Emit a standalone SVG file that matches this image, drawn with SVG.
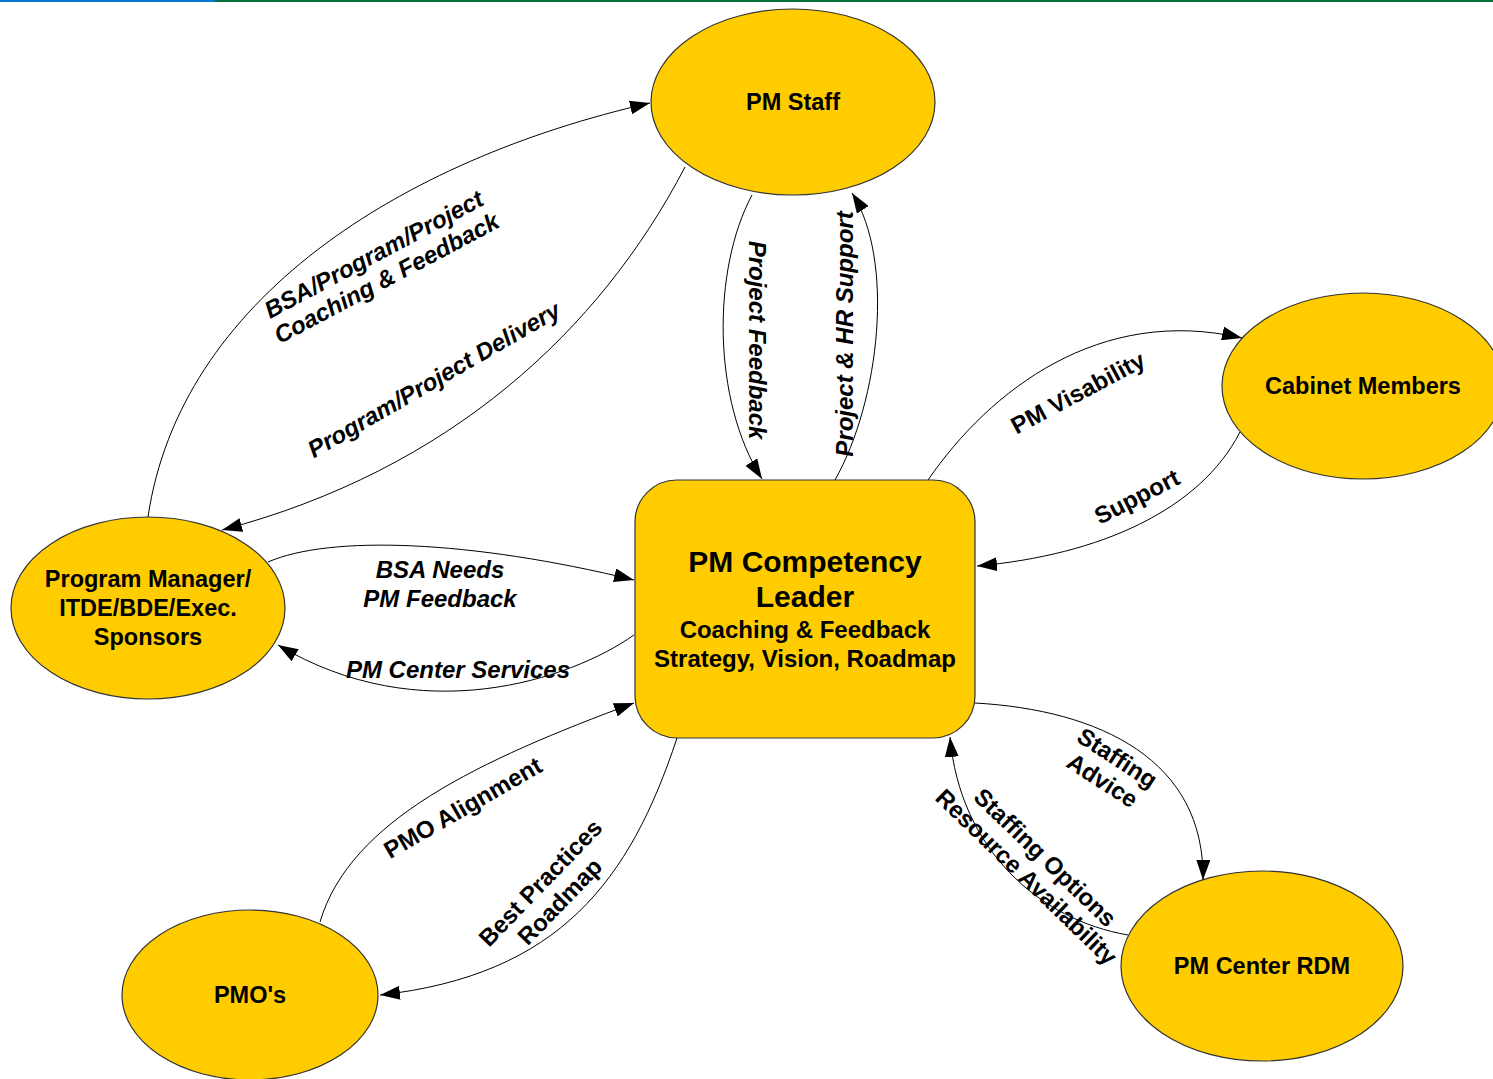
<svg xmlns="http://www.w3.org/2000/svg" width="1493" height="1079" viewBox="0 0 1493 1079">
<defs>
<style>
.node{fill:#FFCC00;stroke:#333;stroke-width:1.2}
.nl{font-family:"Liberation Sans",Arial,sans-serif;font-weight:bold;font-size:23.5px;fill:#000;text-anchor:middle}
.big{font-size:30px}
.sub{font-size:24px}
.edge{fill:none;stroke:#000;stroke-width:1;marker-end:url(#ah)}
.el{font-family:"Liberation Sans",Arial,sans-serif;font-weight:bold;font-size:24px;fill:#000;text-anchor:middle}
.it{font-style:italic}
</style>
<marker id="ah" viewBox="0 0 20 14" refX="20" refY="7" markerWidth="20" markerHeight="14" markerUnits="userSpaceOnUse" orient="auto">
<path d="M0,0 L20,7 L0,14 z" fill="#000"/>
</marker>
</defs>
<rect x="0" y="0" width="1493" height="1079" fill="#fff"/>
<rect x="0" y="0" width="215" height="2" fill="#0078D4"/>
<rect x="215" y="0" width="1278" height="2" fill="#00703C"/>

<g id="pm-staff"><ellipse class="node" cx="793" cy="102" rx="142" ry="93"/><text class="nl" x="793" y="110">PM Staff</text></g>
<g id="cabinet"><ellipse class="node" cx="1363" cy="386" rx="141" ry="93"/><text class="nl" x="1363" y="394">Cabinet Members</text></g>
<g id="program-manager"><ellipse class="node" cx="148" cy="608" rx="137" ry="91"/><text class="nl" x="148" y="587">Program Manager/</text><text class="nl" x="148" y="616">ITDE/BDE/Exec.</text><text class="nl" x="148" y="645">Sponsors</text></g>
<g id="pmos"><ellipse class="node" cx="250" cy="995" rx="128" ry="85"/><text class="nl" x="250" y="1003">PMO's</text></g>
<g id="pm-center-rdm"><ellipse class="node" cx="1262" cy="966" rx="141" ry="95"/><text class="nl" x="1262" y="974">PM Center RDM</text></g>
<g id="leader"><rect class="node" x="635" y="480" width="340" height="258" rx="42" ry="42"/>
<text class="nl big" x="805" y="572">PM Competency</text>
<text class="nl big" x="805" y="607">Leader</text>
<text class="nl sub" x="805" y="638">Coaching &amp; Feedback</text>
<text class="nl sub" x="805" y="667">Strategy, Vision, Roadmap</text></g>

<g id="connectors">
<path class="edge" d="M148,517 C180,300 400,160 650,103"/>
<path class="edge" d="M685,167 C600,330 450,470 222,530"/>
<path class="edge" d="M752,195 C712,270 712,400 762,479"/>
<path class="edge" d="M835,480 C880,400 895,260 852,193"/>
<path class="edge" d="M928,480 C990,390 1100,305 1242,338"/>
<path class="edge" d="M1240,432 C1200,510 1100,555 977,566"/>
<path class="edge" d="M268,562 C330,535 470,540 634,580"/>
<path class="edge" d="M634,635 C570,680 420,730 278,645"/>
<path class="edge" d="M320,922 C350,820 480,760 634,703"/>
<path class="edge" d="M677,738 C630,880 560,975 380,995"/>
<path class="edge" d="M975,703 C1100,710 1205,760 1203,880"/>
<path class="edge" d="M1128,935 C1040,920 960,850 950,737"/>

<g transform="translate(380,266) rotate(-28)"><text class="el it" x="0" y="-5">BSA/Program/Project</text><text class="el it" x="0" y="22">Coaching &amp; Feedback</text></g>
<g transform="translate(434,380) rotate(-30)"><text class="el it" x="0" y="8">Program/Project Delivery</text></g>
<g transform="translate(757,340) rotate(90)"><text class="el it" x="0" y="8">Project Feedback</text></g>
<g transform="translate(845,334) rotate(-90)"><text class="el it" x="0" y="8">Project &amp; HR Support</text></g>
<g transform="translate(1078,393) rotate(-28)"><text class="el" x="0" y="8">PM Visability</text></g>
<g transform="translate(1137,497) rotate(-27)"><text class="el" x="0" y="8">Support</text></g>
<text class="el it" x="440" y="578">BSA Needs</text>
<text class="el it" x="440" y="607">PM Feedback</text>
<text class="el it" x="458" y="678">PM Center Services</text>
<g transform="translate(463,808) rotate(-30)"><text class="el" x="0" y="8">PMO Alignment</text></g>
<g transform="translate(550,892) rotate(-46)"><text class="el" x="0" y="-5">Best Practices</text><text class="el" x="0" y="22">Roadmap</text></g>
<g transform="translate(1110,769) rotate(33)"><text class="el" x="0" y="-5">Staffing</text><text class="el" x="0" y="22">Advice</text></g>
<g transform="translate(1036,867) rotate(44)"><text class="el" x="0" y="-5">Staffing Options</text><text class="el" x="0" y="22">Resource Availability</text></g>
</g>
</svg>
